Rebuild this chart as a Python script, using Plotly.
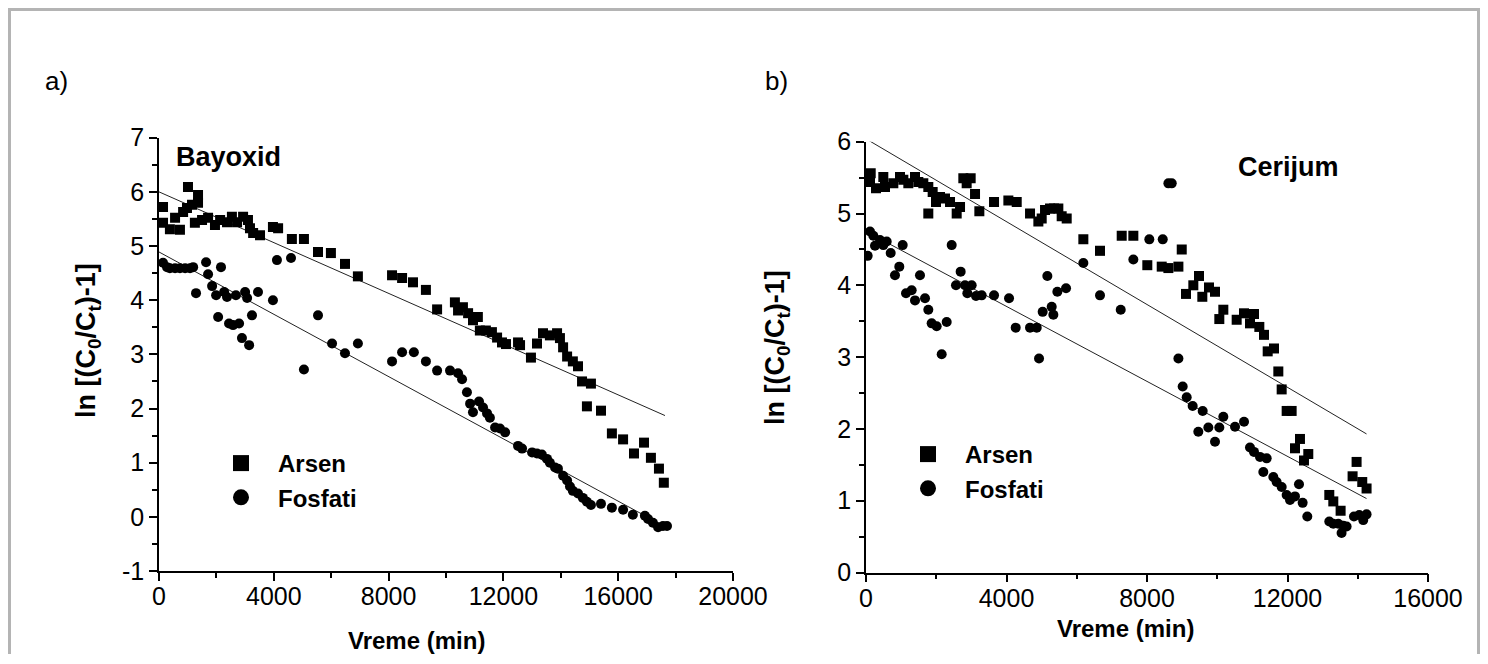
import plotly.graph_objects as go

# The page body has an 8 px margin; the figure is sized to fit inside the window.
OFF = 8
W, H = 1472, 646

# ---------------- Data: panel a) Bayoxid ----------------
ars_a_x = [140, 140, 380, 560, 730, 840, 975, 1010, 1150, 1250, 1360, 1360, 1500, 1710, 1950,
           2130, 2370, 2540, 2720, 2930, 3100, 3170, 3280, 3520, 3970, 4150, 4630, 5050, 5540,
           5990, 6480, 6930, 8120, 8470, 8850, 9300, 9690, 10310, 10420, 10590, 10770, 10940,
           11110, 11180, 11390, 11600, 11780, 11950, 12090, 12510, 12580, 12960, 13170, 13380,
           13620, 13870, 13970, 14080, 14220, 14420, 14600, 14740, 15050, 14910, 15400, 15780,
           16170, 16550, 16900, 17140, 17420, 17590]
ars_a_y = [5.72, 5.43, 5.31, 5.52, 5.30, 5.63, 5.70, 6.09, 5.76, 5.43, 5.94, 5.80, 5.48, 5.52, 5.39,
           5.48, 5.44, 5.54, 5.44, 5.54, 5.48, 5.33, 5.24, 5.20, 5.35, 5.33, 5.13, 5.13, 4.89,
           4.87, 4.67, 4.44, 4.46, 4.41, 4.33, 4.19, 3.83, 3.96, 3.81, 3.87, 3.76, 3.63,
           3.69, 3.44, 3.44, 3.41, 3.31, 3.22, 3.19, 3.22, 3.17, 2.94, 3.20, 3.39,
           3.35, 3.39, 3.30, 3.13, 2.96, 2.87, 2.78, 2.50, 2.46, 2.04, 1.96, 1.54,
           1.43, 1.17, 1.37, 1.09, 0.89, 0.63]

fos_a_x = [140, 280, 380, 560, 730, 910, 1080, 1190, 1290, 1640, 1710, 1850, 1990, 2060, 2160,
           2270, 2370, 2440, 2580, 2680, 2790, 2890, 3000, 3070, 3140, 3240, 3450, 3970, 4110,
           4600, 5050, 5540, 6030, 6480, 6930, 8120, 8470, 8880, 9300, 9690, 10140, 10420,
           10560, 10730, 10840, 10940, 11150, 11290, 11430, 11530, 11710, 11880, 12060, 12510,
           12650, 13000, 13170, 13340, 13520, 13620, 13800, 13900, 14080, 14220, 14320, 14420,
           14600, 14770, 14910, 15050, 15400, 15780, 16170, 16510, 16930, 17040, 17210, 17390,
           17560, 17700]
fos_a_y = [4.69, 4.61, 4.59, 4.59, 4.59, 4.59, 4.59, 4.61, 4.13, 4.70, 4.48, 4.26, 4.09, 3.69, 4.61,
           4.15, 4.06, 3.57, 3.54, 4.09, 3.57, 3.30, 4.15, 4.04, 3.17, 3.72, 4.15, 4.00, 4.74,
           4.78, 2.72, 3.72, 3.20, 3.02, 3.20, 2.87, 3.04, 3.04, 2.87, 2.70, 2.70, 2.65,
           2.54, 2.30, 2.09, 1.93, 2.13, 2.02, 1.91, 1.83, 1.65, 1.63, 1.56, 1.31,
           1.26, 1.19, 1.17, 1.15, 1.07, 1.00, 0.91, 0.89, 0.76, 0.67, 0.56, 0.48,
           0.43, 0.35, 0.28, 0.22, 0.24, 0.17, 0.13, 0.04, 0.02, -0.04, -0.11, -0.19,
           -0.17, -0.17]

fit_ars_a_x = [0, 17630]
fit_ars_a_y = [6.00, 1.87]
fit_fos_a_x = [0, 17700]
fit_fos_a_y = [4.89, -0.20]

# ---------------- Data: panel b) Cerijum ----------------
ars_b_x = [134, 114, 285, 493, 541, 778, 968, 1063, 1205, 1395, 1490, 1632, 1774, 1774, 1898,
           1993, 2107, 2249, 2392, 2582, 2677, 2771, 2866, 2980, 3104, 3227, 3645, 4053, 4291,
           4670, 4907, 5002, 5097, 5239, 5353, 5476, 5571, 5714, 6188, 6662, 7280, 7611, 8009,
           8419, 8609, 8894, 8989, 9111, 9319, 9481, 9575, 9765, 9936, 10059, 10173, 10553,
           10762, 10932, 11046, 11198, 11331, 11436, 11616, 11739, 11834, 11976, 12118, 12355,
           12213, 12592, 12469, 13190, 13304, 13512, 13967, 13853, 14128, 14251]
ars_b_y = [5.56, 5.44, 5.35, 5.51, 5.37, 5.42, 5.51, 5.47, 5.42, 5.51, 5.44, 5.42, 5.37, 5.00, 5.30,
           5.16, 5.23, 5.21, 5.16, 5.00, 5.09, 5.49, 5.42, 5.49, 5.27, 5.03, 5.16, 5.18, 5.16,
           5.00, 4.89, 4.93, 5.05, 5.07, 5.07, 5.07, 4.96, 4.93, 4.64, 4.48, 4.69, 4.69, 4.28,
           4.26, 4.24, 4.26, 4.50, 3.88, 4.00, 4.13, 3.84, 3.97, 3.91, 3.53, 3.66, 3.52,
           3.61, 3.47, 3.60, 3.42, 3.31, 3.08, 3.12, 2.80, 2.55, 2.25, 2.25, 1.86,
           1.73, 1.65, 1.56, 1.08, 0.99, 0.86, 1.54, 1.34, 1.26, 1.17]

fos_b_x = [47, 114, 209, 256, 399, 493, 589, 703, 825, 948, 1044, 1139, 1300, 1395, 1537, 1680,
           1774, 1870, 2012, 2155, 2297, 2439, 2562, 2695, 2818, 2885, 3008, 3132, 3293, 3645,
           4072, 4262, 4670, 4860, 4926, 5030, 5163, 5287, 5334, 5448, 5695, 6188, 6662, 7252,
           7611, 8066, 8448, 8609, 8704, 8894, 9016, 9130, 9300, 9585, 9461, 9746, 9936, 10059,
           10173, 10506, 10762, 10932, 11046, 11217, 11407, 11312, 11597, 11691, 11834, 11976,
           12071, 12213, 12431, 12327, 12564, 13190, 13304, 13446, 13540, 13589, 13683, 13892,
           14043, 14156, 14251]
fos_b_y = [4.41, 4.75, 4.69, 4.55, 4.63, 4.56, 4.61, 4.45, 4.14, 4.26, 4.56, 3.89, 3.93, 3.79, 4.14, 3.82,
           3.66, 3.47, 3.43, 3.04, 3.49, 4.56, 4.00, 4.19, 4.00, 3.89, 4.00, 3.85, 3.86, 3.86,
           3.82, 3.41, 3.41, 3.41, 2.98, 3.63, 4.13, 3.70, 3.59, 3.91, 3.96, 4.31, 3.86, 3.66,
           4.36, 4.64, 4.64, 5.42, 5.42, 2.98, 2.59, 2.44, 2.32, 2.25, 1.96, 2.02, 1.82, 2.02,
           2.17, 2.03, 2.10, 1.74, 1.68, 1.61, 1.59, 1.40, 1.33, 1.26, 1.19, 1.08,
           1.01, 1.06, 0.97, 1.23, 0.78, 0.71, 0.68, 0.68, 0.55, 0.65, 0.64, 0.78,
           0.80, 0.73, 0.81]

fit_ars_b_x = [0, 14250]
fit_ars_b_y = [6.04, 1.93]
fit_fos_b_x = [0, 14250]
fit_fos_b_y = [4.75, 1.03]

# ---------------- Tick labels and texts ----------------
xticks_a = [0, 4000, 8000, 12000, 16000, 20000]
xticks_b = [0, 4000, 8000, 12000, 16000]
yticks_a = [-1, 0, 1, 2, 3, 4, 5, 6, 7]
yticks_b = [0, 1, 2, 3, 4, 5, 6]

series_names = ["Arsen", "Fosfati"]
panel_labels = ["a)", "b)"]
panel_titles = ["Bayoxid", "Cerijum"]
x_title = "Vreme (min)"
y_title = "ln [(C<sub>0</sub>/C<sub>t</sub>)-1]"

FONT = "Liberation Sans, Arial, sans-serif"


def fx(p):
    return (p - OFF) / W


def fy(p):
    return 1 - (p - OFF) / H


def labels(vals):
    return [str(v) for v in vals]


fig = go.Figure()

mk_sq = dict(symbol="square", size=10, color="black")
mk_ci = dict(symbol="circle", size=10, color="black")
ln = dict(color="#222222", width=1)

# panel a
fig.add_trace(go.Scatter(x=fit_ars_a_x, y=fit_ars_a_y, mode="lines", line=ln, showlegend=False, xaxis="x", yaxis="y"))
fig.add_trace(go.Scatter(x=fit_fos_a_x, y=fit_fos_a_y, mode="lines", line=ln, showlegend=False, xaxis="x", yaxis="y"))
fig.add_trace(go.Scatter(x=ars_a_x, y=ars_a_y, mode="markers", marker=mk_sq, showlegend=False, xaxis="x", yaxis="y"))
fig.add_trace(go.Scatter(x=fos_a_x, y=fos_a_y, mode="markers", marker=mk_ci, showlegend=False, xaxis="x", yaxis="y"))
fig.add_trace(go.Scatter(x=[None], y=[None], mode="markers", name=series_names[0],
                         marker=dict(symbol="square", size=16, color="black"), legend="legend", xaxis="x", yaxis="y"))
fig.add_trace(go.Scatter(x=[None], y=[None], mode="markers", name=series_names[1],
                         marker=dict(symbol="circle", size=16, color="black"), legend="legend", xaxis="x", yaxis="y"))

# panel b
fig.add_trace(go.Scatter(x=fit_ars_b_x, y=fit_ars_b_y, mode="lines", line=ln, showlegend=False, xaxis="x2", yaxis="y2"))
fig.add_trace(go.Scatter(x=fit_fos_b_x, y=fit_fos_b_y, mode="lines", line=ln, showlegend=False, xaxis="x2", yaxis="y2"))
fig.add_trace(go.Scatter(x=ars_b_x, y=ars_b_y, mode="markers", marker=mk_sq, showlegend=False, xaxis="x2", yaxis="y2"))
fig.add_trace(go.Scatter(x=fos_b_x, y=fos_b_y, mode="markers", marker=mk_ci, showlegend=False, xaxis="x2", yaxis="y2"))
fig.add_trace(go.Scatter(x=[None], y=[None], mode="markers", name=series_names[0],
                         marker=dict(symbol="square", size=16, color="black"), legend="legend2", xaxis="x2", yaxis="y2"))
fig.add_trace(go.Scatter(x=[None], y=[None], mode="markers", name=series_names[1],
                         marker=dict(symbol="circle", size=16, color="black"), legend="legend2", xaxis="x2", yaxis="y2"))

tickfont = dict(family=FONT, size=25, color="black")
minor = dict(ticks="outside", ticklen=5, tickwidth=1.5, tickcolor="black", showgrid=False)

axis_common = dict(showline=True, linecolor="black", linewidth=1.5, showgrid=False, zeroline=False,
                   ticks="outside", ticklen=8, tickwidth=1.5, tickcolor="black", tickfont=tickfont,
                   fixedrange=True, automargin=False)

legend_font = dict(family=FONT, size=24, color="black", weight="bold")


def ann(text, x, y, size, xanchor="center", angle=0):
    return dict(text=text, x=fx(x), y=fy(y), xref="paper", yref="paper", showarrow=False,
                xanchor=xanchor, yanchor="middle", textangle=angle,
                font=dict(family=FONT, size=size, color="black"))


fig.update_layout(
    template="none",
    width=W, height=H,
    margin=dict(l=0, r=0, t=0, b=0, pad=0, autoexpand=False),
    paper_bgcolor="#b4b4b4",
    plot_bgcolor="rgba(0,0,0,0)",
    xaxis=dict(axis_common, domain=[fx(159), fx(733)], range=[0, 20000],
               tickvals=xticks_a, ticktext=labels(xticks_a), ticklabelstandoff=-6,
               minor=dict(minor, dtick=2000), anchor="y"),
    yaxis=dict(axis_common, domain=[fy(571), fy(137.7)], range=[-1, 7],
               tickvals=yticks_a, ticktext=labels(yticks_a),
               minor=dict(minor, dtick=0.5), anchor="x"),
    xaxis2=dict(axis_common, domain=[fx(866), fx(1428)], range=[0, 16000],
                tickvals=xticks_b, ticktext=labels(xticks_b), ticklabelstandoff=-5,
                minor=dict(minor, dtick=2000), anchor="y2"),
    yaxis2=dict(axis_common, domain=[fy(572.5), fy(141.7)], range=[0, 6],
                tickvals=yticks_b, ticktext=labels(yticks_b),
                minor=dict(minor, dtick=0.5), anchor="x2"),
    legend=dict(x=fx(204), y=fy(441), xanchor="left", yanchor="top", bgcolor="rgba(0,0,0,0)",
                font=legend_font, itemwidth=64, tracegroupgap=0),
    legend2=dict(x=fx(891), y=fy(432), xanchor="left", yanchor="top", bgcolor="rgba(0,0,0,0)",
                 font=legend_font, itemwidth=64, tracegroupgap=0),
    shapes=[dict(type="rect", xref="paper", yref="paper", x0=fx(11), x1=fx(1477), y0=0, y1=fy(11),
                 fillcolor="white", line=dict(width=0), layer="below")],
    annotations=[
        ann(panel_labels[0], 56, 81, 26),
        ann(panel_labels[1], 776, 81, 26),
        ann("<b>" + panel_titles[0] + "</b>", 174, 157, 27, xanchor="left"),
        ann("<b>" + panel_titles[1] + "</b>", 1288, 167, 27),
        ann("<b>" + x_title + "</b>", 416, 640, 24),
        ann("<b>" + x_title + "</b>", 1125, 628, 24),
        ann("<b>" + y_title + "</b>", 88, 341, 27, angle=-90),
        ann("<b>" + y_title + "</b>", 777, 347, 27, angle=-90),
    ],
)

fig.write_html("out.html")
